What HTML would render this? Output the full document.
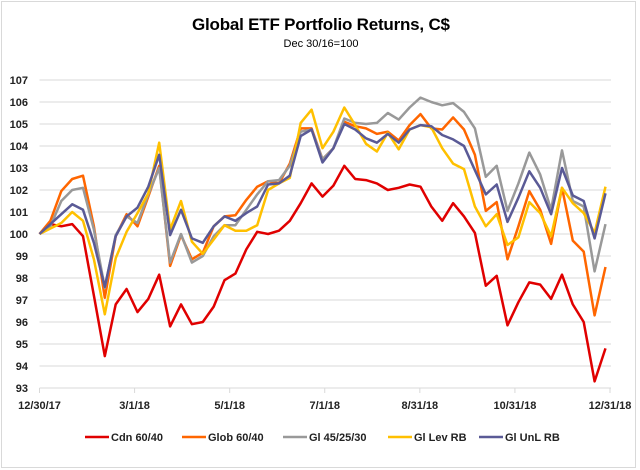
<!DOCTYPE html>
<html><head><meta charset="utf-8"><style>
body{margin:0;background:#fff;}
svg{display:block;font-family:"Liberation Sans",sans-serif;}
</style></head><body>
<svg id="chart" width="640" height="470">
<rect x="1.5" y="1.5" width="634" height="466" fill="#fff" stroke="#d9d9d9"/>
<text x="321" y="30" text-anchor="middle" font-size="17" font-weight="bold" fill="#000" textLength="258">Global ETF Portfolio Returns, C$</text>
<text x="321" y="47" text-anchor="middle" font-size="11" fill="#000">Dec 30/16=100</text>
<g id="grid"></g><g id="yl"></g><g id="xl"></g><g id="series"></g><g id="legend"></g>
</svg>
<script>
const yTicks=[93,94,95,96,97,98,99,100,101,102,103,104,105,106,107];
const xLabels=["12/30/17","3/1/18","5/1/18","7/1/18","8/31/18","10/31/18","12/31/18"];
const seriesNames=["Cdn 60/40","Glob 60/40","Gl 45/25/30","Gl Lev RB","Gl UnL RB"];
const cdn=[100,100.45,100.35,100.45,99.9,97.2,94.45,96.8,97.5,96.45,97.05,98.15,95.8,96.8,95.9,96.0,96.7,97.9,98.2,99.3,100.1,100.0,100.15,100.6,101.4,102.3,101.7,102.2,103.1,102.5,102.45,102.3,102.0,102.1,102.25,102.15,101.25,100.6,101.4,100.8,100.05,97.65,98.1,95.85,96.9,97.8,97.7,97.05,98.15,96.8,96.0,93.3,94.8];
const glob=[100,100.6,101.95,102.5,102.65,100.35,97.1,99.9,100.9,100.35,101.7,103.1,98.55,99.95,98.85,99.15,100.35,100.8,100.85,101.55,102.15,102.4,102.3,103.2,104.8,104.8,103.4,103.9,105.1,104.9,104.8,104.55,104.65,104.25,104.95,105.45,104.8,104.75,105.3,104.75,103.6,101.05,101.45,98.85,100.35,101.95,101.1,99.55,102.1,99.7,99.2,96.3,98.5];
const gl452530=[100,100.35,101.5,102.0,102.1,100.2,97.55,99.95,100.8,100.5,101.8,103.0,98.7,100,98.7,99.0,99.9,100.4,100.4,101.1,101.8,102.4,102.45,103.1,104.65,104.75,103.4,103.9,105.25,105.05,105.0,105.05,105.5,105.2,105.75,106.2,106.0,105.85,105.95,105.55,104.8,102.6,103.1,101.05,102.3,103.7,102.7,101.1,103.8,101.5,101.25,98.3,100.45];
const lev=[100,100.25,100.5,101.0,100.6,98.85,96.35,98.9,100.1,100.95,101.85,104.15,100.2,101.5,99.65,99.1,99.75,100.4,100.15,100.15,100.4,102.0,102.3,102.55,105.05,105.65,103.9,104.65,105.75,104.95,104.1,103.75,104.6,103.85,104.75,104.95,104.85,103.9,103.2,102.95,101.25,100.35,100.9,99.5,99.85,101.45,100.95,99.9,102.1,101.4,100.95,100.05,102.15];
const unl=[100,100.45,100.9,101.35,101.1,99.6,97.6,99.9,100.8,101.2,102.15,103.6,99.95,101.1,99.8,99.6,100.35,100.8,100.6,100.95,101.25,102.25,102.3,102.65,104.45,104.75,103.25,103.9,105.0,104.75,104.35,104.15,104.55,104.15,104.75,104.95,104.9,104.5,104.3,104.0,102.9,101.8,102.25,100.55,101.65,102.85,102.1,100.9,103.0,101.75,101.5,99.8,101.85];
const allSeries=[cdn,glob,gl452530,lev,unl];
const colors=["#e00000","#ff6600","#999999","#ffc000","#5a5a96"];
const NS="http://www.w3.org/2000/svg";
const X0=39.5,X1=611,YT=80,YB=388,Y0=93,Y1=107;
function ys(v){return YB-(v-Y0)/(Y1-Y0)*(YB-YT);}
function xs(i,n){return X0+i*(605.5-X0)/(n-1);}
function el(t,a,p){const e=document.createElementNS(NS,t);for(const k in a)e.setAttribute(k,a[k]);p.appendChild(e);return e;}
const grid=document.getElementById('grid'),yl=document.getElementById('yl'),xl=document.getElementById('xl');
yTicks.forEach(v=>{
  const l=el('line',{x1:X0,x2:X1,y1:ys(v),y2:ys(v),stroke:'#d9d9d9','stroke-width':1},grid);
  
  
  const t=el('text',{x:28,y:ys(v)+4,'text-anchor':'end','font-size':11,'font-weight':'bold',fill:'#222'},yl);
  t.textContent=v;
  
  
});
const ax=el('line',{x1:X0,x2:X1,y1:YB,y2:YB,stroke:'#d9d9d9'},grid);


xLabels.forEach((s,i)=>{
  const x=X0+i*(610-X0)/(xLabels.length-1);
  const tk=el('line',{x1:x,x2:x,y1:YB,y2:YB+5,stroke:'#d9d9d9'},grid);
  
  
  const t=el('text',{x:x,y:409,'text-anchor':'middle','font-size':11,'font-weight':'bold',fill:'#222'},xl);
  t.textContent=s;
  
  
});
const sg=document.getElementById('series');
allSeries.forEach((d,k)=>{
  const pts=d.map((v,i)=>xs(i,d.length).toFixed(1)+','+ys(v).toFixed(1)).join(' ');
  const p=el('polyline',{points:pts,fill:'none',stroke:colors[k],'stroke-width':2.5,'stroke-linejoin':'round'},sg);
  
  
});
const lg=document.getElementById('legend');
const lx=[85,182,283,388,479];
seriesNames.forEach((s,k)=>{
  const g=el('g',{},lg);
  
  
  el('line',{x1:lx[k],x2:lx[k]+24,y1:437,y2:437,stroke:colors[k],'stroke-width':2.5},g);
  const t=el('text',{x:lx[k]+26,y:441,'font-size':11,'font-weight':'bold',fill:'#222'},g);
  t.textContent=s;
});
</script>
</body></html>
